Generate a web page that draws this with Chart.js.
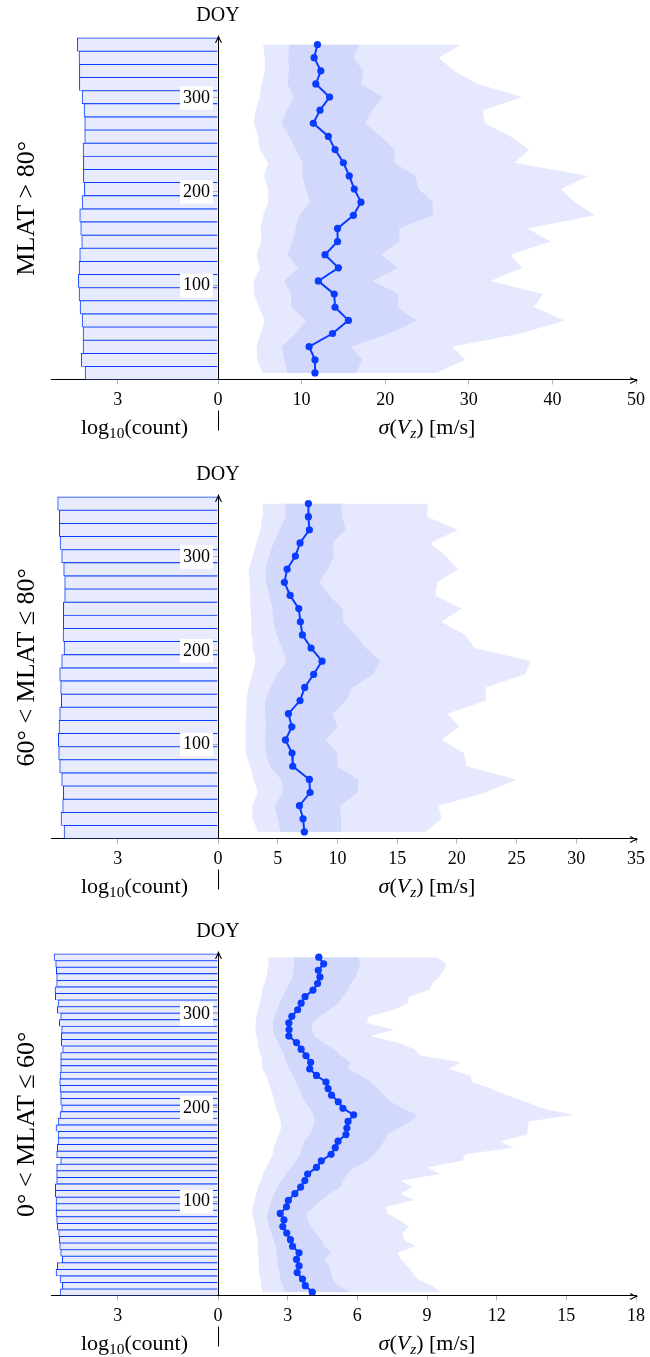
<!DOCTYPE html>
<html>
<head>
<meta charset="utf-8">
<script src="https://cdn.jsdelivr.net/npm/chart.js@4.4.0/dist/chart.umd.min.js"></script>
<style>
  html, body { margin: 0; padding: 0; background: #fff; }
  #wrap { position: relative; width: 650px; height: 1357px; overflow: hidden; }
  #wrap canvas { position: absolute; left: 0; }
</style>
</head>
<body>
<div id="wrap"></div>
<script>
// ---- data (read top to bottom, i.e. DOY descending) ----
const panelLabels = ['MLAT > 80°', '60° < MLAT ≤ 80°', '0° < MLAT ≤ 60°'];

const doy14 = [357, 343, 329, 315, 301, 287, 273, 259, 245, 231, 217, 203, 189,
  175, 161, 147, 133, 119, 105, 91, 77, 63, 49, 35, 21, 7];
const doy7 = [360.5, 353.5, 346.5, 339.5, 332.5, 325.5, 318.5, 311.5, 304.5, 297.5,
  290.5, 283.5, 276.5, 269.5, 262.5, 255.5, 248.5, 241.5, 234.5, 227.5, 220.5, 213.5,
  206.5, 199.5, 192.5, 185.5, 178.5, 171.5, 164.5, 157.5, 150.5, 143.5, 136.5, 129.5,
  122.5, 115.5, 108.5, 101.5, 94.5, 87.5, 80.5, 73.5, 66.5, 59.5, 52.5, 45.5, 38.5,
  31.5, 24.5, 17.5, 10.5, 3.5];

// MLAT > 80
const count1 = [4.21, 4.16, 4.15, 4.15, 4.07, 4.01, 3.99, 3.99, 4.04, 4.03, 4.03, 4.00, 4.07,
  4.14, 4.11, 4.08, 4.14, 4.16, 4.18, 4.16, 4.13, 4.07, 4.04, 4.04, 4.09, 3.98];
const med1 = [11.9, 11.5, 12.3, 11.7, 13.35, 12.2, 11.4, 13.2, 14.0, 15.0, 15.7, 16.3, 17.1,
  16.2, 14.3, 14.3, 12.8, 14.4, 12.0, 13.9, 14.0, 15.6, 13.7, 10.9, 11.6, 11.6];
const innerLo1 = [8.5, 8.4, 8.5, 8.3, 9.1, 8.2, 7.6, 8.5, 9.3, 10.1, 10.1, 10.5, 11.0,
  9.7, 9.3, 8.9, 8.3, 9.6, 7.9, 8.7, 8.8, 10.5, 9.3, 7.6, 7.9, 8.3];
const innerHi1 = [16.9, 16.2, 17.4, 17.1, 19.7, 18.5, 17.6, 19.5, 21.1, 21.1, 23.6, 24.0, 25.7,
  25.7, 21.7, 21.7, 19.5, 21.5, 18.5, 21.6, 21.5, 23.8, 20.5, 15.9, 17.3, 16.5];
const outerLo1 = [5.4, 5.6, 5.6, 5.2, 5.0, 4.5, 4.3, 4.8, 5.0, 6.0, 5.5, 6.0, 6.0,
  5.4, 5.1, 5.2, 4.6, 5.0, 4.3, 4.3, 4.9, 5.6, 5.1, 4.6, 4.7, 5.3];
const outerHi1 = [29.1, 26.4, 28.2, 31.1, 36.4, 31.7, 31.9, 35.0, 37.2, 35.5, 44.3, 41.0, 42.7,
  45.1, 37.0, 39.8, 35.0, 36.4, 32.6, 38.9, 37.8, 41.5, 36.2, 28.0, 29.6, 26.1];

// 60 < MLAT <= 80
const count2 = [4.80, 4.75, 4.75, 4.73, 4.68, 4.62, 4.59, 4.59, 4.63, 4.63, 4.64, 4.61, 4.68,
  4.74, 4.71, 4.69, 4.74, 4.76, 4.78, 4.77, 4.74, 4.68, 4.63, 4.65, 4.70, 4.61];
const med2 = [7.57, 7.57, 7.65, 6.87, 6.48, 5.79, 5.56, 6.04, 6.76, 6.90, 7.07, 7.79, 8.71,
  8.01, 7.26, 6.87, 5.90, 6.18, 5.65, 6.20, 6.26, 7.65, 7.71, 6.82, 7.12, 7.23];
const innerLo2 = [5.65, 5.65, 5.15, 4.65, 4.26, 3.98, 4.03, 4.31, 4.54, 4.65, 4.92, 5.34, 5.76,
  4.95, 4.40, 3.95, 3.90, 4.03, 3.90, 4.03, 4.31, 5.29, 5.43, 4.73, 5.00, 5.23];
const innerHi2 = [10.3, 10.4, 10.7, 9.6, 9.74, 9.18, 8.49, 9.32, 10.43, 10.49, 11.55, 12.38, 13.58,
  12.99, 11.27, 10.71, 9.6, 10.0, 9.04, 10.0, 10.0, 11.77, 11.69, 10.24, 10.3, 10.3];
const outerLo2 = [3.76, 3.7, 3.56, 3.2, 2.92, 2.56, 2.64, 2.70, 2.73, 2.78, 2.84, 2.92, 3.14,
  2.87, 2.56, 2.37, 2.37, 2.31, 2.28, 2.31, 2.70, 2.98, 3.34, 2.87, 2.92, 3.34];
const outerHi2 = [17.6, 17.5, 20.1, 17.8, 19.06, 20.1, 18.36, 18.2, 20.4, 18.7, 20.7, 21.5, 26.2,
  25.7, 22.4, 22.45, 19.2, 20.2, 18.7, 20.6, 20.8, 24.99, 22.45, 18.45, 18.73, 17.4];

// 0 < MLAT <= 60 (weekly bins)
const count3 = [4.91, 4.86, 4.84, 4.83, 4.83, 4.88, 4.87, 4.79, 4.81, 4.71, 4.75, 4.68, 4.69,
  4.69, 4.65, 4.71, 4.71, 4.71, 4.73, 4.74, 4.73, 4.71, 4.71, 4.68, 4.73, 4.79,
  4.85, 4.79, 4.79, 4.81, 4.83, 4.71, 4.83, 4.83, 4.83, 4.87, 4.87, 4.85, 4.85,
  4.85, 4.83, 4.81, 4.77, 4.75, 4.74, 4.71, 4.66, 4.81, 4.85, 4.73, 4.66, 4.73];
const med3 = [4.34, 4.55, 4.32, 4.39, 4.29, 4.09, 3.75, 3.58, 3.43, 3.18, 3.05, 3.06, 3.05,
  3.38, 3.58, 3.79, 3.99, 3.95, 4.24, 4.65, 4.74, 4.89, 5.18, 5.38, 5.84, 5.60,
  5.55, 5.51, 5.17, 5.05, 4.87, 4.45, 4.24, 3.86, 3.74, 3.56, 3.31, 3.03, 2.95,
  2.68, 2.84, 2.79, 2.96, 3.12, 3.21, 3.49, 3.38, 3.49, 3.41, 3.64, 3.76, 4.06];
const innerLo3 = [3.25, 3.29, 3.22, 3.19, 3.08, 2.93, 2.79, 2.65, 2.55, 2.43, 2.36, 2.36, 2.43,
  2.58, 2.72, 2.86, 2.93, 3.08, 3.22, 3.36, 3.51, 3.61, 3.75, 3.94, 4.12, 4.15,
  4.08, 3.94, 3.72, 3.61, 3.55, 3.36, 3.15, 2.93, 2.72, 2.58, 2.43, 2.29, 2.22,
  2.12, 2.15, 2.19, 2.29, 2.39, 2.48, 2.53, 2.55, 2.58, 2.65, 2.69, 2.79, 2.89];
const innerHi3 = [6.04, 6.15, 6.01, 5.94, 5.72, 5.58, 5.37, 5.15, 4.79, 4.41, 4.08, 4.04, 4.15,
  4.51, 5.01, 5.29, 5.72, 5.58, 6.15, 6.58, 6.87, 7.15, 7.44, 7.94, 8.58, 8.30,
  7.80, 7.30, 7.15, 6.97, 6.73, 6.44, 5.87, 5.58, 5.37, 5.29, 4.79, 4.44, 4.15,
  3.79, 3.86, 4.01, 4.22, 4.44, 4.58, 4.86, 4.58, 4.79, 4.86, 4.94, 5.15, 5.72];
const outerLo3 = [2.15, 2.19, 2.12, 2.08, 2.0, 1.9, 1.86, 1.79, 1.72, 1.65, 1.62, 1.60, 1.65,
  1.72, 1.75, 1.86, 1.9, 1.9, 2.08, 2.17, 2.26, 2.36, 2.43, 2.5, 2.62, 2.69,
  2.72, 2.61, 2.5, 2.40, 2.36, 2.22, 2.08, 1.93, 1.86, 1.72, 1.65, 1.58, 1.50,
  1.46, 1.55, 1.60, 1.65, 1.69, 1.72, 1.72, 1.76, 1.76, 1.76, 1.83, 1.86, 1.93];
const outerHi3 = [9.41, 9.84, 9.73, 9.52, 9.23, 9.09, 8.23, 8.16, 7.58, 6.51, 6.41, 7.58, 6.58,
  7.73, 8.45, 8.73, 10.45, 9.94, 10.87, 10.95, 11.73, 12.45, 13.24, 13.95, 15.31, 13.38,
  13.35, 13.31, 12.16, 12.71, 10.66, 10.52, 9.01, 9.59, 7.87, 8.37, 7.87, 8.44, 7.23,
  7.30, 7.80, 8.23, 7.94, 8.01, 8.51, 7.73, 7.87, 8.16, 8.37, 8.58, 9.23, 9.58];

// axes
const doyTicks = [100, 200, 300];
const countTicks = [3, 0];
const sigmaMax = [50, 35, 18];
const sigmaTicks1 = [10, 20, 30, 40, 50];
const sigmaTicks2 = [5, 10, 15, 20, 25, 30, 35];
const sigmaTicks3 = [3, 6, 9, 12, 15, 18];

// ---- style ----
const FONT = '"Liberation Serif", "DejaVu Serif", serif';
const BLUE = '#0a3cff';
const HIST_FILL = '#e8ebfd';
const OUTER = '#e6e9fe';
const INNER = '#d2d8fc';
const TICK_GREY = '#b4b4b4';

const panels = [
  { label: panelLabels[0], doy: doy14, count: count1, med: med1, iLo: innerLo1, iHi: innerHi1,
    oLo: outerLo1, oHi: outerHi1, xMax: sigmaMax[0], xTicks: sigmaTicks1, top: 0 },
  { label: panelLabels[1], doy: doy14, count: count2, med: med2, iLo: innerLo2, iHi: innerHi2,
    oLo: outerLo2, oHi: outerHi2, xMax: sigmaMax[1], xTicks: sigmaTicks2, top: 459 },
  { label: panelLabels[2], doy: doy7, count: count3, med: med3, iLo: innerLo3, iHi: innerHi3,
    oLo: outerLo3, oHi: outerHi3, xMax: sigmaMax[2], xTicks: sigmaTicks3, top: 916 }
];

const countTitle = [{ t: 'log' }, { t: '10', sub: true }, { t: '(count)' }];
const sigmaTitle = [{ t: 'σ', it: true }, { t: '(' }, { t: 'V', it: true },
  { t: 'z', it: true, sub: true }, { t: ')' }, { t: ' [m/s]' }];

const wrap = document.getElementById('wrap');

function addCanvas(top, z) {
  const c = document.createElement('canvas');
  c.width = 650;
  c.height = 460;
  c.style.top = top + 'px';
  c.style.zIndex = z;
  wrap.appendChild(c);
  return c;
}

// text with italic / subscript pieces, centred on cx
function drawRich(ctx, parts, cx, cy, size) {
  const fontOf = p => (p.it ? 'italic ' : '') + (p.sub ? size * 0.7 : size) + 'px ' + FONT;
  let total = 0;
  parts.forEach(p => {
    ctx.font = fontOf(p);
    p.w = ctx.measureText(p.t).width;
    total += p.w;
  });
  let x = cx - total / 2;
  ctx.textAlign = 'left';
  ctx.textBaseline = 'alphabetic';
  parts.forEach(p => {
    ctx.font = fontOf(p);
    ctx.fillText(p.t, x, cy + (p.sub ? size * 0.22 : 0));
    x += p.w;
  });
}

function arrowHead(ctx, x, y, ang) {
  ctx.save();
  ctx.translate(x, y);
  ctx.rotate(ang);
  ctx.beginPath();
  ctx.moveTo(-6, -2.8);
  ctx.quadraticCurveTo(-2, -0.7, 0, 0);
  ctx.quadraticCurveTo(-2, 0.7, -6, 2.8);
  ctx.lineWidth = 1.1;
  ctx.lineCap = 'round';
  ctx.stroke();
  ctx.restore();
}

const histDecor = {
  id: 'histDecor',
  afterDraw(chart) {
    const { ctx, chartArea: a } = chart;
    ctx.save();
    ctx.fillStyle = '#000';
    drawRich(ctx, countTitle, (a.left + a.right) / 2, a.bottom + 54, 22);
    ctx.restore();
  }
};

const sigmaDecor = {
  id: 'sigmaDecor',
  afterDraw(chart) {
    const { ctx, chartArea: a } = chart;
    ctx.save();
    ctx.strokeStyle = '#000';
    ctx.fillStyle = '#000';
    arrowHead(ctx, a.right + 0.5, Math.round(a.bottom) + 0.5, 0);
    arrowHead(ctx, Math.round(a.left) + 0.5, a.top - 0.5, -Math.PI / 2);
    ctx.font = '20px ' + FONT;
    ctx.textAlign = 'center';
    ctx.textBaseline = 'middle';
    ctx.fillText('DOY', a.left, a.top - 21);
    ctx.beginPath();
    ctx.lineWidth = 1;
    ctx.moveTo(Math.round(a.left) + 0.5, a.bottom + 31);
    ctx.lineTo(Math.round(a.left) + 0.5, a.bottom + 51);
    ctx.stroke();
    drawRich(ctx, sigmaTitle, (a.left + a.right) / 2, a.bottom + 54, 22);
    ctx.restore();
  }
};

const tickFont = { family: FONT, size: 18 };

function makePanel(p) {
  // histogram of log10(count), mirrored to the left of the DOY axis
  new Chart(addCanvas(p.top, 1), {
    type: 'bar',
    data: {
      datasets: [{
        data: p.doy.map((d, i) => ({ x: p.count[i], y: d })),
        backgroundColor: HIST_FILL,
        borderColor: BLUE,
        borderWidth: { top: 1, bottom: 0.6, left: 1, right: 0 },
        borderSkipped: false,
        barPercentage: 1,
        categoryPercentage: 1
      }]
    },
    options: {
      responsive: false,
      animation: false,
      indexAxis: 'y',
      layout: { padding: { left: 0, right: 432, top: 37, bottom: 10.5 } },
      plugins: { legend: { display: false }, tooltip: { enabled: false } },
      scales: {
        x: {
          type: 'linear', reverse: true, min: 0, max: 5,
          afterBuildTicks: s => { s.ticks = countTicks.map(v => ({ value: v })); },
          afterFit: s => { s.height = 70; },
          grid: { drawOnChartArea: false, tickLength: 5, color: TICK_GREY },
          border: { color: '#000', width: 1 },
          ticks: { font: tickFont, color: '#000', padding: 5, maxRotation: 0 }
        },
        y: {
          type: 'linear', min: 0, max: 365, offset: false,
          afterFit: s => { s.width = 51; },
          grid: { display: false },
          border: { display: false },
          ticks: { display: false },
          title: { display: true, text: p.label, color: '#000',
            font: { family: FONT, size: 26 }, padding: { top: 12, bottom: 0 } }
        }
      }
    },
    plugins: [histDecor]
  });

  const pts = arr => p.doy.map((d, i) => ({ x: arr[i], y: d }));
  const band = (arr, fill, color) => ({
    data: pts(arr), fill: fill, backgroundColor: color || 'transparent',
    borderColor: 'transparent', borderWidth: 0, pointRadius: 0
  });

  // sigma(Vz) vs DOY with percentile bands and median
  new Chart(addCanvas(p.top, 2), {
    type: 'line',
    data: {
      datasets: [
        { data: pts(p.med), borderColor: BLUE, backgroundColor: BLUE, borderWidth: 2,
          pointRadius: 3.6, pointBorderWidth: 0, pointBackgroundColor: BLUE, fill: false },
        band(p.iHi, 2, INNER),
        band(p.iLo, false),
        band(p.oHi, 4, OUTER),
        band(p.oLo, false)
      ]
    },
    options: {
      responsive: false,
      animation: false,
      indexAxis: 'y',
      elements: { line: { tension: 0 } },
      layout: { padding: { left: 173, right: 12.3, top: 37, bottom: 10.5 } },
      plugins: { legend: { display: false }, tooltip: { enabled: false } },
      scales: {
        x: {
          type: 'linear', min: 0, max: p.xMax,
          afterBuildTicks: s => { s.ticks = p.xTicks.map(v => ({ value: v })); },
          afterFit: s => { s.height = 70; },
          grid: { drawOnChartArea: false, tickLength: 5, color: TICK_GREY },
          border: { color: '#000', width: 1 },
          ticks: { font: tickFont, color: '#000', padding: 5, maxRotation: 0 }
        },
        y: {
          type: 'linear', min: 0, max: 365,
          afterBuildTicks: s => { s.ticks = doyTicks.map(v => ({ value: v })); },
          afterFit: s => { s.width = 45; },
          grid: { drawOnChartArea: false, tickLength: 6, color: TICK_GREY },
          border: { color: '#000', width: 1 },
          ticks: {
            font: tickFont, color: '#000', padding: 2,
            showLabelBackdrop: true, backdropColor: '#fff',
            backdropPadding: { top: 1, bottom: 1, left: 3, right: 3 }
          }
        }
      }
    },
    plugins: [sigmaDecor]
  });
}

panels.forEach(makePanel);
</script>
</body>
</html>
